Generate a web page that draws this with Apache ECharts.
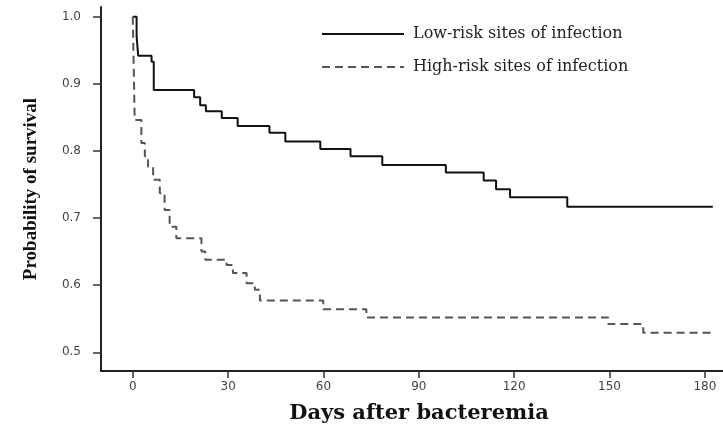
<!DOCTYPE html>
<html>
<head>
<meta charset="utf-8">
<title>Survival</title>
<script src="https://cdn.jsdelivr.net/npm/echarts@6/dist/echarts.min.js"></script>
<style>
	html, body { margin: 0; padding: 0; background: #fff; }
	#container { width: 723px; height: 424px; }
</style>
</head>
<body>
<div id="container"></div>
<script>
// days after bacteremia / probability of survival
var lowRiskDays = [0, 1.2, 1.7, 5.9, 6.6, 19.3, 21.2, 23, 28, 33, 43, 48, 59, 68.5, 78.5, 98.5, 110.4, 114.3, 118.7, 136.7, 182.5];
var lowRiskSurv = [1.0, 0.971, 0.942, 0.933, 0.891, 0.880, 0.868, 0.859, 0.849, 0.837, 0.827, 0.814, 0.803, 0.792, 0.779, 0.768, 0.756, 0.743, 0.731, 0.717, 0.717];

var highRiskDays = [0, 0.6, 2.7, 3.8, 4.8, 6.4, 8.5, 10, 11.6, 13.7, 21.6, 22.8, 29.5, 31.5, 35.8, 38.4, 40, 59.9, 73.5, 149.6, 160.6, 182.5];
var highRiskSurv = [1.0, 0.846, 0.812, 0.792, 0.777, 0.757, 0.737, 0.712, 0.687, 0.670, 0.650, 0.638, 0.630, 0.618, 0.603, 0.593, 0.577, 0.564, 0.552, 0.542, 0.529, 0.529];

var xTicks = [0, 30, 60, 90, 120, 150, 180];
var yTicks = [0.5, 0.6, 0.7, 0.8, 0.9, 1.0];

var seriesNames = ['Low-risk sites of infection', 'High-risk sites of infection'];

function pairs(xs, ys) {
	var out = [];
	for (var i = 0; i < xs.length; i++) {
		out.push([xs[i], ys[i]]);
	}
	return out;
}

var dom = document.getElementById("container");
var myChart = echarts.init(dom);
var option = null;
option = {
	animation : false,
	grid : {
		left : 101,
		right : 0,
		top : 7,
		bottom : 53,
		outerBoundsMode : 'none'
	},
	legend : {
		orient : 'vertical',
		left : 316,
		top : 21,
		itemWidth : 82,
		itemHeight : 14,
		itemGap : 17,
		data : seriesNames,
		// hide the symbol in the legend icon, keep the line
		itemStyle : { opacity : 0 },
		textStyle : {
			fontFamily : 'DejaVu Serif',
			fontSize : 16,
			color : '#222',
			padding : [ 0, 0, 0, 4 ]
		}
	},
	xAxis : {
		type : 'value',
		min : -10,
		max : 185.7,
		name : 'Days after bacteremia',
		nameLocation : 'middle',
		nameGap : 32,
		nameTextStyle : {
			fontFamily : 'DejaVu Serif',
			fontWeight : 'bold',
			fontSize : 21,
			color : '#111',
			padding : [ 0, 0, 0, 14 ]
		},
		splitLine : { show : false },
		axisLine : {
			onZero : false,
			lineStyle : { color : '#222', width : 2 }
		},
		axisTick : {
			customValues : xTicks,
			length : 7,
			lineStyle : { color : '#333', width : 1.5 }
		},
		axisLabel : {
			customValues : xTicks,
			margin : 10,
			fontFamily : 'DejaVu Sans',
			fontSize : 12,
			color : '#444'
		}
	},
	yAxis : {
		type : 'value',
		min : 0.4721,
		max : 1.0145,
		name : 'Probability of survival',
		nameLocation : 'middle',
		nameGap : 60,
		nameTextStyle : {
			fontFamily : 'Liberation Serif',
			fontWeight : 'bold',
			fontSize : 19,
			color : '#111'
		},
		splitLine : { show : false },
		axisLine : {
			show : true,
			onZero : false,
			lineStyle : { color : '#222', width : 2 }
		},
		axisTick : {
			show : true,
			customValues : yTicks,
			length : 8,
			lineStyle : { color : '#333', width : 1.5 }
		},
		axisLabel : {
			customValues : yTicks,
			margin : 20,
			fontFamily : 'DejaVu Sans',
			fontSize : 12,
			color : '#444',
			formatter : function(v) {
				return v.toFixed(1);
			}
		}
	},
	series : [ {
		name : seriesNames[0],
		type : 'line',
		step : 'end',
		symbol : 'none',
		data : pairs(lowRiskDays, lowRiskSurv),
		lineStyle : { color : '#111', width : 2 },
		itemStyle : { color : '#111' }
	}, {
		name : seriesNames[1],
		type : 'line',
		step : 'end',
		symbol : 'none',
		data : pairs(highRiskDays, highRiskSurv),
		lineStyle : { color : '#555', width : 2, type : [ 8, 5 ] },
		itemStyle : { color : '#555' }
	} ]
};
if (option && typeof option === "object") {
	myChart.setOption(option, true);
}
</script>
</body>
</html>
